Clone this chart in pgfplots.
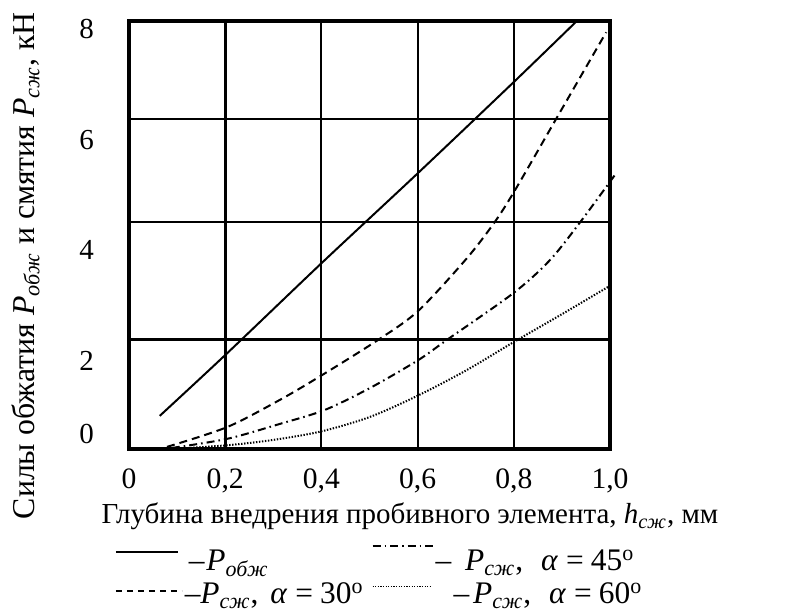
\documentclass[border=0pt]{standalone}
\usepackage{fontspec}
\setmainfont{Liberation Serif}
\usepackage{pgfplots}
\pgfplotsset{compat=1.18}
\newcommand{\Pob}{\textit{P}\textsubscript{\textit{обж}}}
\newcommand{\Psz}{\textit{P}\textsubscript{\textit{сж}}}
\newcommand{\eq}{\hspace{4pt}=\hspace{3.5pt}}
\begin{document}
\begin{tikzpicture}
\useasboundingbox (0,0) rectangle (393pt,306pt);
\begin{axis}[
  at={(64.5pt,81.5pt)}, anchor=south west,
  scale only axis, width=240.5pt, height=214pt,
  xmin=0, xmax=1, ymin=0, ymax=8,
  clip=false,
  axis line style={line width=1.6pt},
  xtick={0,0.2,0.4,0.6,0.8,1},
  xticklabels={0,{0,2},{0,4},{0,6},{0,8},{1,0}},
  ytick={0.28,1.645,3.72,5.78,7.85},
  yticklabels={0,2,4,6,8},
  major tick length=0pt, minor tick length=0pt,
  xmajorgrids, xminorgrids, minor xtick={0.2},
  yminorgrids, minor ytick={2.04},
  major grid style={black, line width=1pt},
  minor grid style={black, line width=1.5pt},
  extra y ticks={4.24,6.17,2.04},
  extra y tick labels={},
  extra y tick style={grid=major},
  /pgf/number format/assume math mode=true,
  xticklabel style={font=\fontsize{14.8}{17}\selectfont, anchor=base, yshift=-19.5pt},
  yticklabel style={font=\fontsize{14.5}{17}\selectfont, anchor=east, xshift=-14pt},
  xlabel={Глубина внедрения пробивного элемента, \textit{h}\textsubscript{\textit{сж}}, мм},
  xlabel style={at={(axis description cs:0.584,-0.175)}, anchor=base, font=\fontsize{14.5}{17}\selectfont},
  ylabel={Силы обжатия \Pob{} и смятия \Psz, кН},
  ylabel style={at={(axis description cs:-0.197,0.428)}, anchor=base, font=\fontsize{15.9}{18}\selectfont},
  legend columns=2,
  legend cell align=left,
  legend style={draw=none, fill=none, inner sep=0pt,
    at={(axis description cs:-0.03,-0.224)}, anchor=north west,
    font=\fontsize{15.7}{18}\selectfont,
    row sep=0pt,
    nodes={inner sep=1pt, text height=10.5pt, text depth=4pt},
    /tikz/every even column/.append style={column sep=3pt}},
]
\addplot[black, line width=1pt, smooth,
  legend image code/.code={\draw[black, line width=1pt] (0pt,6pt) -- (31pt,6pt);}]
  coordinates {(0.064,0.62) (0.204,1.79) (0.401,3.48) (0.601,5.16) (0.800,6.86) (0.931,8.0)};
\addlegendentry{\hspace{2pt}–\hspace{1pt}\Pob}
\addplot[black, line width=1pt, smooth, dash pattern=on 4pt off 2pt on 0.8pt off 2pt,
  legend image code/.code={\draw[black, line width=1pt, dash pattern=on 4pt off 2pt on 0.8pt off 2pt] (0pt,9pt) -- (30pt,9pt);}]
  coordinates {(0.089,0.02) (0.204,0.19) (0.314,0.47) (0.407,0.73) (0.501,1.14) (0.601,1.66) (0.661,2.04) (0.800,2.92) (0.875,3.53) (0.938,4.24) (1.010,5.12)};
\addlegendentry{–\hspace{7pt}\Psz,\hspace{9pt}\textit{α}\eq 45\textsuperscript{o}}
\addplot[black, line width=1pt, smooth, dash pattern=on 4pt off 2.5pt,
  legend image code/.code={\draw[black, line width=0.8pt, dash pattern=on 3pt off 2.5pt] (0pt,3pt) -- (33pt,3pt);}]
  coordinates {(0.079,0.04) (0.204,0.41) (0.314,0.92) (0.401,1.38) (0.518,2.04) (0.601,2.58) (0.699,3.53) (0.757,4.20) (0.800,4.80) (0.888,6.17) (0.940,6.98) (0.992,7.79)};
\addlegendentry{–\Psz,\hspace{6pt}\textit{α}\eq 30\textsuperscript{o}}
\addplot[black, line width=1pt, smooth, dash pattern=on 0.7pt off 0.8pt,
  legend image code/.code={\draw[black, line width=0.7pt, dash pattern=on 0.6pt off 0.7pt] (0pt,5.5pt) -- (29pt,5.5pt);}]
  coordinates {(0.09,0.0) (0.204,0.07) (0.30,0.17) (0.40,0.33) (0.501,0.60) (0.601,1.0) (0.703,1.48) (0.800,2.00) (0.90,2.52) (0.996,3.03)};
\addlegendentry{\hspace{9pt}–\hspace{2pt}\Psz,\hspace{9pt}\textit{α}\eq 60\textsuperscript{o}}
\end{axis}
\end{tikzpicture}
\end{document}
